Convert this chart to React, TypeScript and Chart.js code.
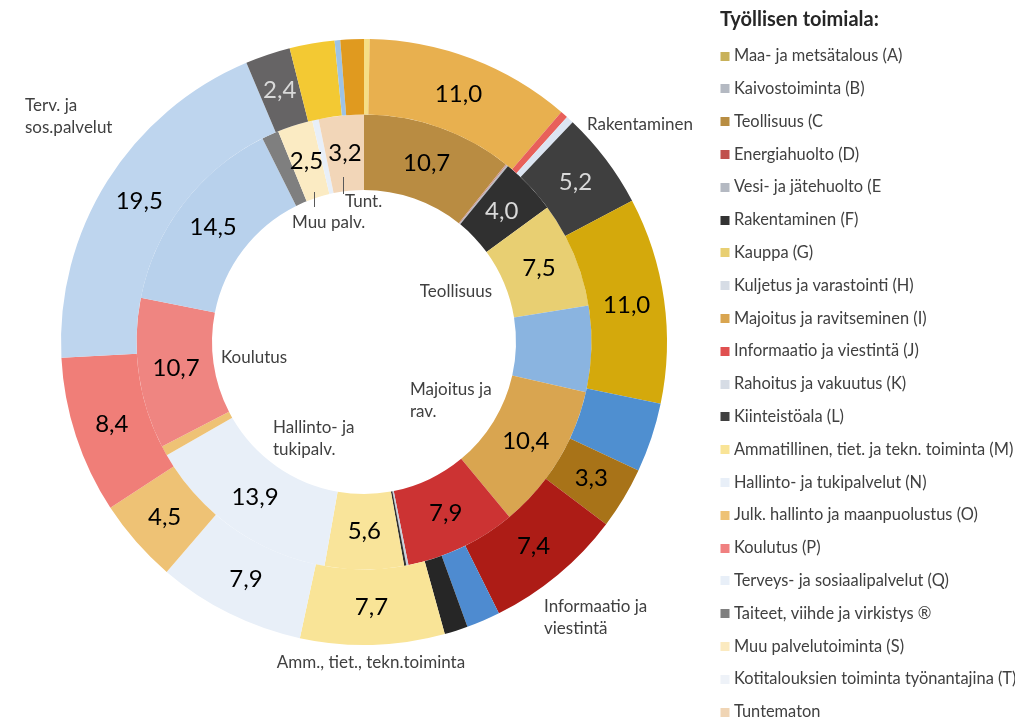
import React, { useEffect, useRef } from 'react';
import { Chart, registerables } from 'chart.js';

Chart.register(...registerables);

const legendTitle = 'Työllisen toimiala:';

const categories = [
  'Maa- ja metsätalous (A)',
  'Kaivostoiminta (B)',
  'Teollisuus (C',
  'Energiahuolto (D)',
  'Vesi- ja jätehuolto (E',
  'Rakentaminen (F)',
  'Kauppa (G)',
  'Kuljetus ja varastointi (H)',
  'Majoitus ja ravitseminen (I)',
  'Informaatio ja viestintä (J)',
  'Rahoitus ja vakuutus (K)',
  'Kiinteistöala (L)',
  'Ammatillinen, tiet. ja tekn. toiminta (M)',
  'Hallinto- ja tukipalvelut (N)',
  'Julk. hallinto ja maanpuolustus (O)',
  'Koulutus (P)',
  'Terveys- ja sosiaalipalvelut (Q)',
  'Taiteet, viihde ja virkistys ®',
  'Muu palvelutoiminta (S)',
  'Kotitalouksien toiminta työnantajina (T)',
  'Tuntematon',
];

// outer ring (dataset 0)
const outerValues = [0.3, 0, 11.0, 0.4, 0.4, 5.2, 11.0, 3.7, 3.3, 7.4, 1.8, 1.25, 7.7, 7.9, 4.5, 8.4, 19.5, 2.4, 2.4, 0.3, 1.25];
// inner ring (dataset 1)
const innerValues = [0, 0, 10.7, 0.1, 0.1, 4.0, 7.5, 6.1, 10.4, 7.9, 0.15, 0.15, 5.6, 13.9, 0.7, 10.7, 14.5, 1.2, 2.5, 0.45, 3.2];

// which slices carry a value label
const outerLabeled = [2, 5, 6, 8, 9, 12, 13, 14, 15, 16, 17];
const innerLabeled = [2, 5, 6, 8, 9, 12, 13, 15, 16, 18, 20];

// category annotations
const annotationTexts = [
  ['Rakentaminen'],
  ['Teollisuus'],
  ['Majoitus ja', 'rav.'],
  ['Informaatio ja', 'viestintä'],
  ['Amm., tiet., tekn.toiminta'],
  ['Hallinto- ja', 'tukipalv.'],
  ['Koulutus'],
  ['Terv. ja', 'sos.palvelut'],
  ['Muu palv.'],
  ['Tunt.'],
];

// ---- styles (kept apart from the data) ----
const outerColors = ['#F6DE86', '#B4B9C2', '#E8B04F', '#E8605A', '#DCE5F2', '#3F3F3F', '#D4A90C', '#4F8FD0', '#A87318', '#AD1C16', '#4E8BD0', '#262626', '#F9E497', '#E8EFF8', '#EEC275', '#F07E78', '#BED5EE', '#666465', '#F3C933', '#9DC3E6', '#E09A1F'];
const innerColors = ['#C8B15A', '#B4B9C2', '#B98C42', '#C9958F', '#B4B9C2', '#303030', '#E8CF72', '#8AB4E0', '#D9A550', '#CC3333', '#C8D0DC', '#303030', '#F9E49A', '#E8EFF8', '#EEC275', '#EF8581', '#B8D1EC', '#7F7F7F', '#FBEBC3', '#E8EFF8', '#F2D6B8'];
const legendColors = ['#C8B15A', '#B4B9C2', '#B88D42', '#C0504D', '#B4B9C2', '#333333', '#E8CF72', '#D6DCE5', '#D9A550', '#E05050', '#D6DCE5', '#404040', '#F9E497', '#E8EFF8', '#EEC275', '#F08080', '#E8EFF8', '#7F7F7F', '#FBEAC0', '#EEF2F8', '#F0D5B5'];
const lightLabelIdx = [5, 17]; // dark slices get light gray text

const FONT = 'Lato, "Open Sans", sans-serif';

// annotation placement relative to the doughnut centre
const annotationPlacement = [
  { dx: 223, dy: -217, align: 'left' },
  { dx: 92, dy: -50, align: 'center' },
  { dx: 46, dy: 48, align: 'left' },
  { dx: 180, dy: 265, align: 'left' },
  { dx: 7, dy: 321, align: 'center' },
  { dx: -91, dy: 86, align: 'left' },
  { dx: -143, dy: 16, align: 'left' },
  { dx: -339, dy: -236, align: 'left' },
  { dx: -72, dy: -119, align: 'left' },
  { dx: -19, dy: -140, align: 'left' },
];
const leaderLines = [
  { dx: -50, y1: -150, y2: -135 },
  { dx: -21, y1: -165, y2: -148 },
];

const fmt = (v: number) => v.toFixed(1).replace('.', ',');

const valueLabelPlugin = {
  id: 'valueLabels',
  afterDatasetsDraw(chart: any) {
    const ctx = chart.ctx;
    ctx.save();
    ctx.font = `24px ${FONT}`;
    ctx.textAlign = 'center';
    ctx.textBaseline = 'middle';
    const lists = [outerLabeled, innerLabeled];
    chart.data.datasets.forEach((ds: any, di: number) => {
      const meta = chart.getDatasetMeta(di);
      lists[di].forEach((i) => {
        const arc = meta.data[i];
        if (!arc) return;
        const p = arc.getProps(['x', 'y', 'startAngle', 'endAngle', 'innerRadius', 'outerRadius'], true);
        const a = (p.startAngle + p.endAngle) / 2;
        const r = (p.innerRadius + p.outerRadius) / 2;
        const x = p.x + Math.cos(a) * r;
        const y = p.y + Math.sin(a) * r;
        const dark = lightLabelIdx.includes(i) && (di === 0 || i === 5);
        ctx.fillStyle = dark ? '#D9D9D9' : '#000000';
        ctx.fillText(fmt(ds.data[i]), x, y);
      });
    });
    // category annotations
    const meta0 = chart.getDatasetMeta(0);
    const cx = meta0.data[0].x;
    const cy = meta0.data[0].y;
    ctx.font = `17px ${FONT}`;
    ctx.fillStyle = '#404040';
    annotationTexts.forEach((lines, k) => {
      const pl = annotationPlacement[k];
      ctx.textAlign = pl.align;
      lines.forEach((t, li) => {
        ctx.fillText(t, cx + pl.dx, cy + pl.dy + li * 22);
      });
    });
    ctx.strokeStyle = '#595959';
    ctx.lineWidth = 1;
    leaderLines.forEach((l) => {
      ctx.beginPath();
      ctx.moveTo(Math.round(cx + l.dx) + 0.5, cy + l.y1);
      ctx.lineTo(Math.round(cx + l.dx) + 0.5, cy + l.y2);
      ctx.stroke();
    });
    ctx.restore();
  },
};

const legendPlugin = {
  id: 'sideLegend',
  afterDraw(chart: any) {
    const ctx = chart.ctx;
    const x0 = chart.width - 295;
    ctx.save();
    ctx.textBaseline = 'middle';
    ctx.textAlign = 'left';
    ctx.fillStyle = '#262626';
    ctx.font = `bold 20px ${FONT}`;
    ctx.fillText(legendTitle, x0, 20);
    ctx.font = `16.4px ${FONT}`;
    categories.forEach((c, i) => {
      const y = 56 + i * 32.8;
      ctx.fillStyle = legendColors[i];
      ctx.fillRect(x0 + 0.5, Math.round(y - 4.5), 9, 9);
      ctx.fillStyle = '#404040';
      ctx.fillText(c, x0 + 14, y);
    });
    ctx.restore();
  },
};

export default function App() {
  const ref = useRef<HTMLCanvasElement | null>(null);
  useEffect(() => {
    if (!ref.current) return;
    Chart.defaults.font.family = FONT;
    const chart = new Chart(ref.current, {
      type: 'doughnut',
      data: {
        labels: categories,
        datasets: [
          { data: outerValues, backgroundColor: outerColors, borderWidth: 0 },
          { data: innerValues, backgroundColor: innerColors, borderWidth: 0 },
        ],
      },
      options: {
        responsive: false,
        animation: false,
        cutout: 152,
        layout: { padding: { left: 61, right: 348, top: 39, bottom: 72 } },
        plugins: {
          legend: { display: false },
          tooltip: { enabled: false },
        },
      },
      plugins: [valueLabelPlugin, legendPlugin],
    });
    return () => chart.destroy();
  }, []);
  return (
    <div style={{ position: 'fixed', left: 0, top: 0, width: 1015, height: 717, background: '#fff' }}>
      <canvas ref={ref} width={1015} height={717} />
    </div>
  );
}
